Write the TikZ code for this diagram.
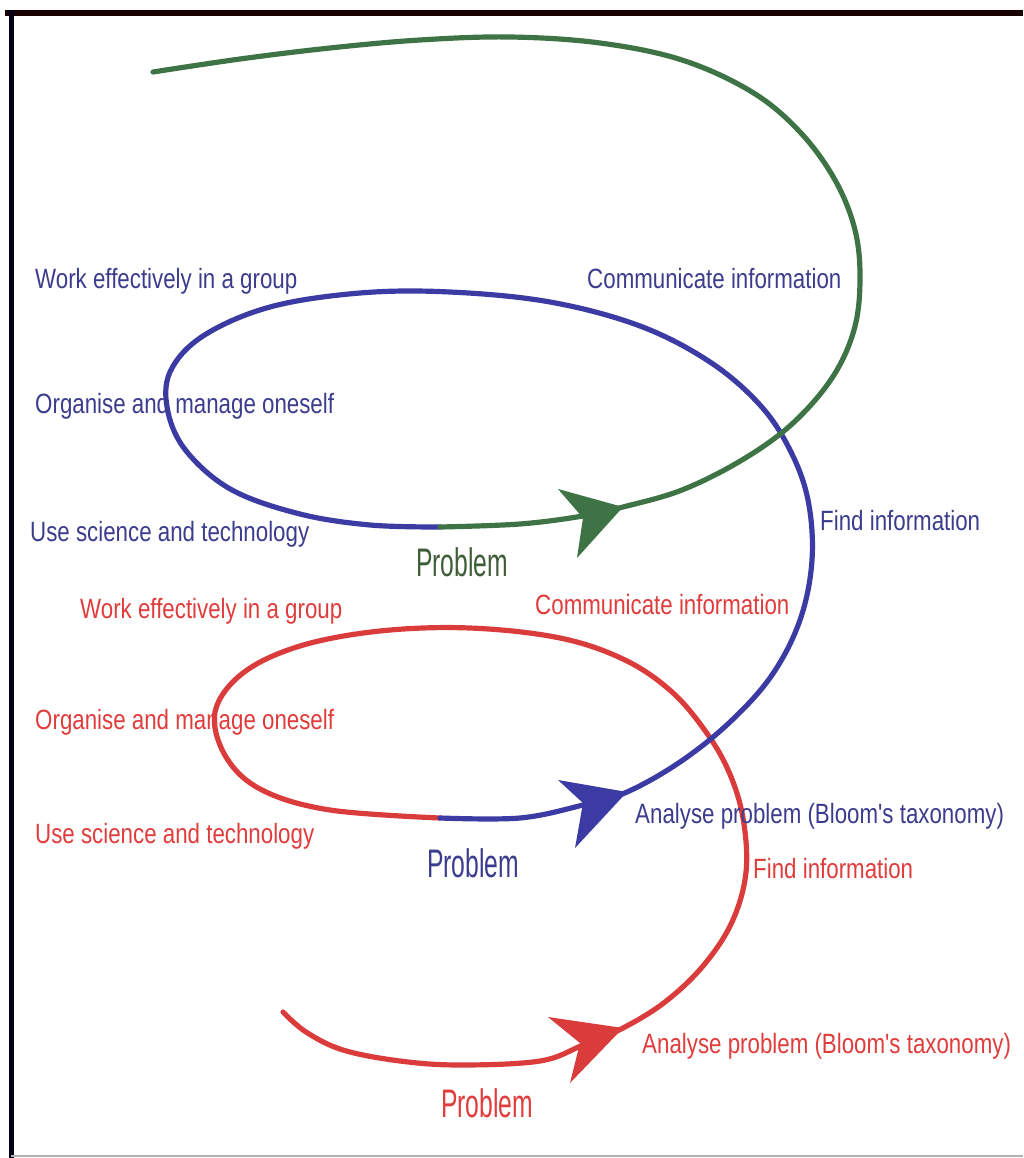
\documentclass[tikz,border=0pt]{standalone}
\usepackage{fontspec}
\setmainfont{Liberation Sans}
\definecolor{gline}{HTML}{3E7346}
\definecolor{bline}{HTML}{3B3BA3}
\definecolor{rline}{HTML}{DA3B3B}
\definecolor{btext}{HTML}{3C3C8E}
\definecolor{rtext}{HTML}{E03C3C}
\definecolor{gtext}{HTML}{3F5E38}
\tikzset{
  lbl/.style={anchor=base west, inner sep=0pt, font=\fontsize{23.8}{28}\selectfont},
  prob/.style={anchor=base west, inner sep=0pt, font=\fontsize{34}{40}\selectfont},
  loop/.style={line width=5.2pt*0.85, line cap=round, line join=round},
}
\newcommand{\narrow}[1]{\scalebox{0.8}[1]{#1}}
\newcommand{\tall}[1]{\scalebox{0.62}[1]{#1}}
\begin{document}
\begin{tikzpicture}[x=0.03cm, y=-0.03cm]
\useasboundingbox (0,0) rectangle (1023,1158);
\fill[white] (0,0) rectangle (1023,1158);
% frame
\draw[line width=7*0.85pt, black!90!red] (5,13) -- (1023,13);
\draw[line width=6*0.85pt, black!90!blue] (11.5,10) -- (11.5,1158);
\draw[line width=2*0.85pt, black!30] (11,1156) -- (1023,1156);

% red loop (bottom)
\draw[loop, rline] plot[smooth, tension=0.6] coordinates {
  (283,1012) (306,1032) (343,1050) (400,1061) (460,1065) (540,1061) (583,1045) (623,1028)
  (665,1002) (703,966) (732,922) (746,872) (743,818) (729,772) (706,732)
  (672,692) (625,660) (560,638) (470,628) (380,631) (300,646) (243,673)
  (215,712) (226,757) (262,790) (330,810) (440,818)};
\fill[rline] (548,1017) -- (623,1028) -- (570,1083) -- (580,1043) -- cycle;

% blue loop (middle)
\draw[loop, bline] plot[smooth, tension=0.6] coordinates {
  (440,818) (520,818) (583,805) (627,792) (680,762) (730,722) (772,675)
  (800,620) (812,560) (808,500) (790,450) (760,405) (710,362) (640,326)
  (550,302) (450,292) (360,293) (270,307) (203,336) (170,372) (168,412)
  (187,452) (232,490) (300,514) (370,525) (440,527)};
\fill[bline] (558,780) -- (627,792) -- (575,848) -- (583,803) -- cycle;

% green loop (top)
\draw[loop, gline] plot[smooth, tension=0.6] coordinates {
  (440,527) (520,524) (583,516) (623,507) (682,490) (742,460) (792,424)
  (832,378) (854,330) (860,280) (855,230) (835,180) (800,132) (752,92)
  (682,60) (600,43) (510,37) (420,40) (330,48) (240,59) (153,72)};
\fill[gline] (558,489) -- (623,507) -- (577,558) -- (583,518) -- cycle;

% labels, upper loop
\node[lbl, btext] (b1) at (35,288) {\narrow{Work effectively in a group}};
\node[lbl, btext] (b2) at (587,289) {\narrow{Communicate information}};
\node[lbl, btext] (b3) at (35,413) {\narrow{Organise and manage oneself}};
\node[lbl, btext] (b4) at (30,541) {\narrow{Use science and technology}};
\node[lbl, btext] (b5) at (820,530) {\narrow{Find information}};
\node[lbl, btext] (b6) at (635,823) {\narrow{Analyse problem (Bloom\textquotesingle s taxonomy)}};
\node[prob, gtext] (p1) at (416,576) {\tall{Problem}};
\node[prob, btext] (p2) at (427,877) {\tall{Problem}};

% labels, lower loop
\node[lbl, rtext] (r1) at (80,618) {\narrow{Work effectively in a group}};
\node[lbl, rtext] (r2) at (535,614) {\narrow{Communicate information}};
\node[lbl, rtext] (r3) at (35,729) {\narrow{Organise and manage oneself}};
\node[lbl, rtext] (r4) at (35,843) {\narrow{Use science and technology}};
\node[lbl, rtext] (r5) at (753,878) {\narrow{Find information}};
\node[lbl, rtext] (r6) at (642,1053) {\narrow{Analyse problem (Bloom\textquotesingle s taxonomy)}};
\node[prob, rtext] (p3) at (441,1117) {\tall{Problem}};
\end{tikzpicture}
\end{document}
